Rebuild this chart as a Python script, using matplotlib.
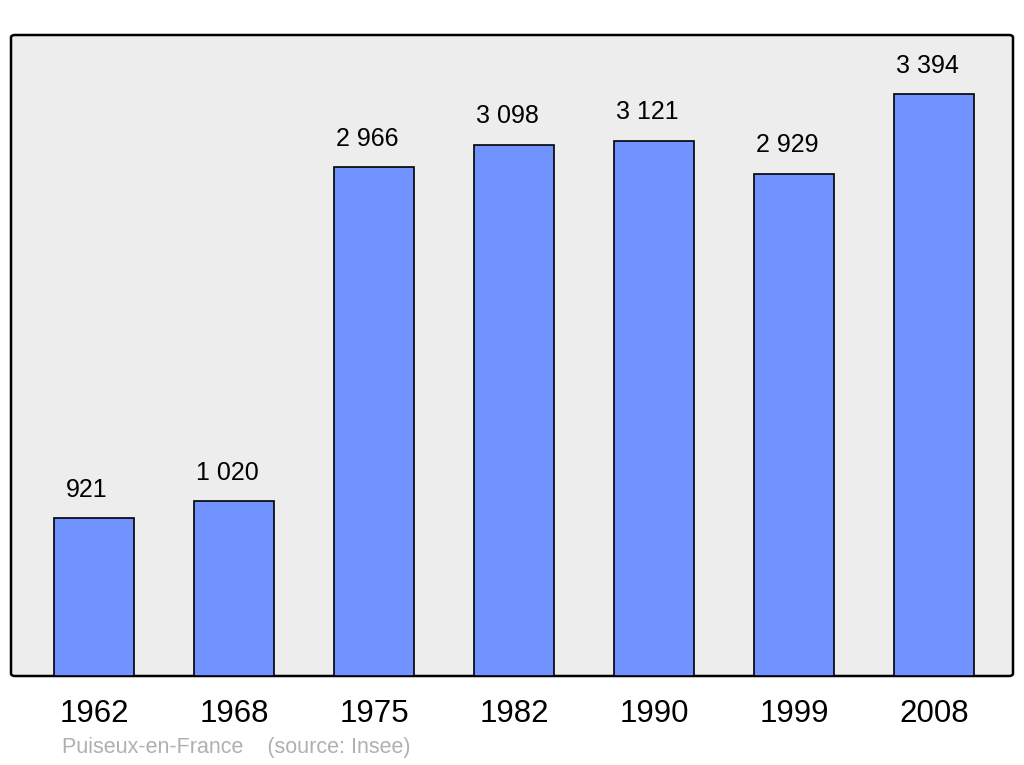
import matplotlib.pyplot as plt
from matplotlib.patches import FancyBboxPatch

years = ["1962", "1968", "1975", "1982", "1990", "1999", "2008"]
population = [921, 1020, 2966, 3098, 3121, 2929, 3394]
value_labels = ["921", "1 020", "2 966", "3 098", "3 121", "2 929", "3 394"]

plt.rcParams['font.family'] = ['Liberation Sans', 'DejaVu Sans']

fig = plt.figure(figsize=(10.24, 7.65), dpi=100)
# axes box: x 11..1013 px, y 35..676 px
ax = fig.add_axes([11 / 1024, 1 - 676 / 765, 1002 / 1024, 641 / 765])
ax.set_axis_off()

# rounded grey background with black border
bg = FancyBboxPatch((0, 0), 1, 1, boxstyle="round,pad=0,rounding_size=0.004",
                    transform=ax.transAxes, facecolor="#ededed",
                    edgecolor="black", linewidth=1.8, zorder=0, clip_on=False)
ax.add_patch(bg)

x = range(len(years))
ax.bar(x, population, width=0.575, color="#7093ff", edgecolor="black",
       linewidth=1.2, zorder=2)

for xi, val, lab in zip(x, population, value_labels):
    ax.annotate(lab, (xi, val), xytext=(-5, 20.5), textcoords="offset points",
                ha="center", va="center", fontsize=18)

ax.set_xlim(-0.593, 6.564)
ax.set_ylim(0, 3738)

for xi, yr in zip(x, years):
    ax.annotate(yr, (xi, 0), xytext=(0, -27.5), textcoords="offset points",
                ha="center", va="center", fontsize=22.5, annotation_clip=False)

fig.text(62 / 1024, 1 - 747 / 765, "Puiseux-en-France    (source: Insee)",
         color="#b0b0b0", fontsize=15.5, ha="left", va="center")

fig.savefig("out.png", dpi=100)
